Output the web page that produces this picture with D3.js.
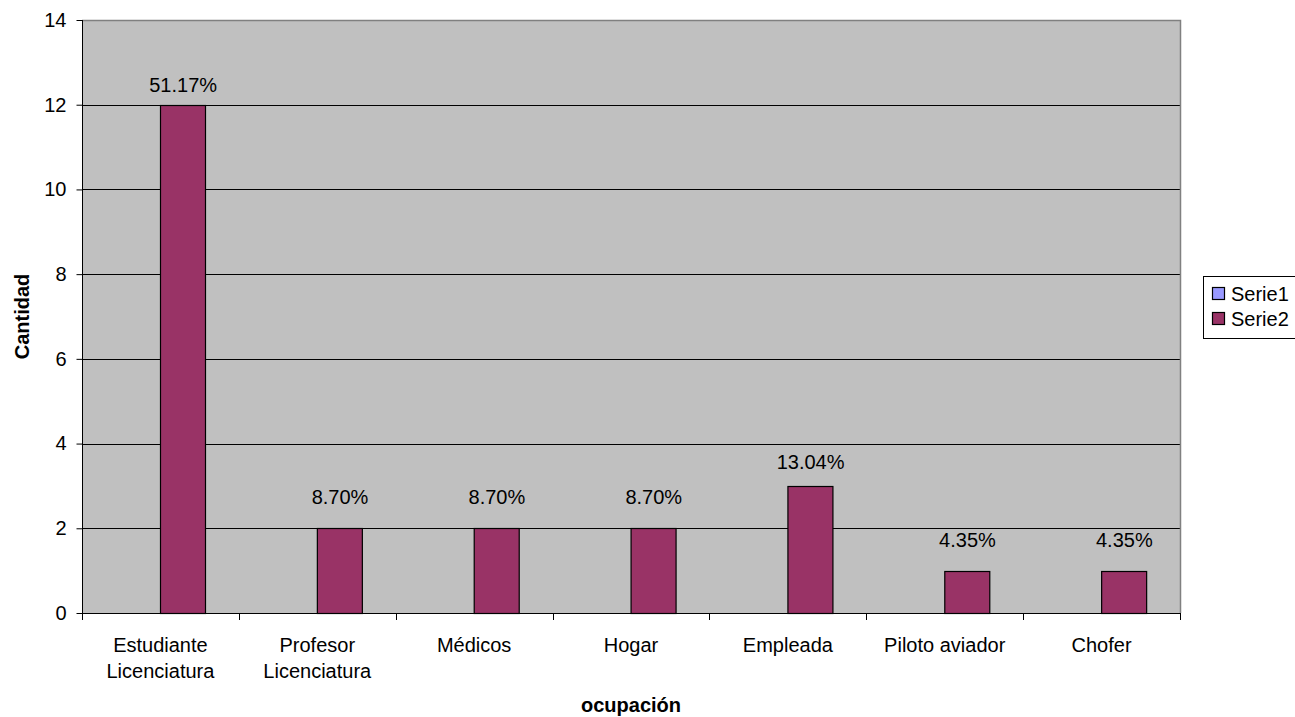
<!DOCTYPE html>
<html>
<head>
<meta charset="utf-8">
<script src="https://cdn.jsdelivr.net/npm/d3@7"></script>
<style>
  html, body { margin: 0; padding: 0; background: #fff; }
  svg { display: block; font-family: "Liberation Sans", Arial, sans-serif; }
</style>
</head>
<body>
<svg id="chart" width="1295" height="717"></svg>
<script>
// Occupation categories (two-line labels split on "\n")
const categories = [
  "Estudiante\nLicenciatura",
  "Profesor\nLicenciatura",
  "Médicos",
  "Hogar",
  "Empleada",
  "Piloto aviador",
  "Chofer"
];
const seriesNames = ["Serie1", "Serie2"];
const serie1 = [0, 0, 0, 0, 0, 0, 0];
const serie2 = [12, 2, 2, 2, 3, 1, 1];
const serie2Labels = ["51.17%", "8.70%", "8.70%", "8.70%", "13.04%", "4.35%", "4.35%"];
const yTicks = [0, 2, 4, 6, 8, 10, 12, 14];

const colors = { Serie1: "#9999FF", Serie2: "#993366" };

const svg = d3.select("#chart");
const plot = { left: 82, right: 1180, top: 20, bottom: 613 };
const fontSize = 20;

const x = d3.scaleBand()
  .domain(categories)
  .range([plot.left, plot.right])
  .paddingInner(0).paddingOuter(0);

const y = d3.scaleLinear().domain([0, 14]).range([plot.bottom, plot.top]);

const groupWidth = x.bandwidth() * 0.58;
const xSub = d3.scaleBand()
  .domain(seriesNames)
  .range([(x.bandwidth() - groupWidth) / 2, (x.bandwidth() + groupWidth) / 2]);

// Plot background
svg.append("rect")
  .attr("x", plot.left).attr("y", plot.top)
  .attr("width", plot.right - plot.left).attr("height", plot.bottom - plot.top)
  .attr("fill", "#C0C0C0");

// Gridlines
svg.append("g").selectAll("line")
  .data(yTicks.filter(t => t > 0 && t < 14))
  .join("line")
  .attr("x1", plot.left).attr("x2", plot.right)
  .attr("y1", d => Math.round(y(d)) + 0.5).attr("y2", d => Math.round(y(d)) + 0.5)
  .attr("stroke", "#000").attr("stroke-width", 1);

// Plot frame (top and right in grey)
svg.append("path")
  .attr("d", `M${plot.left},${plot.top + 0.5}H${plot.right + 0.5}V${plot.bottom}`)
  .attr("fill", "none").attr("stroke", "#808080").attr("stroke-width", 1.5);

// Bars
const rows = categories.map((c, i) => ({ cat: c, values: [
  { key: "Serie1", value: serie1[i] },
  { key: "Serie2", value: serie2[i] }
], label: serie2Labels[i], v2: serie2[i] }));

const groups = svg.append("g").selectAll("g")
  .data(rows).join("g")
  .attr("transform", d => `translate(${x(d.cat)},0)`);

groups.selectAll("rect")
  .data(d => d.values.filter(v => v.value > 0))
  .join("rect")
  .attr("x", d => Math.round(xSub(d.key)) + 0.5)
  .attr("y", d => Math.round(y(d.value)) + 0.5)
  .attr("width", Math.round(xSub.bandwidth()))
  .attr("height", d => Math.round(y(0)) - Math.round(y(d.value)))
  .attr("fill", d => colors[d.key])
  .attr("stroke", "#000").attr("stroke-width", 1.2);

// Value labels above the Serie2 bars
const labelLift = [13, 24, 24, 24, 17, 24, 24];
groups.append("text")
  .attr("x", xSub("Serie2") + xSub.bandwidth() / 2)
  .attr("y", (d, i) => y(d.v2) - labelLift[i])
  .attr("text-anchor", "middle")
  .attr("font-size", fontSize)
  .attr("fill", "#000")
  .text(d => d.label);

// Y axis
const yAxis = d3.axisLeft(y).tickValues(yTicks).tickSize(6).tickPadding(10).tickFormat(d3.format("d"));
const gy = svg.append("g")
  .attr("transform", `translate(${plot.left + 0.5},0)`)
  .call(yAxis);
gy.select(".domain").attr("stroke", "#000").attr("d", `M0,${plot.top}V${plot.bottom}`);
gy.selectAll(".tick text").attr("font-size", fontSize).attr("font-family", "Liberation Sans, Arial, sans-serif").attr("fill", "#000");

// X axis: ticks on category boundaries
const gx = svg.append("g");
gx.append("line")
  .attr("x1", plot.left).attr("x2", plot.right + 1)
  .attr("y1", plot.bottom + 0.5).attr("y2", plot.bottom + 0.5)
  .attr("stroke", "#000");
const boundaries = categories.map(c => x(c)).concat([x(categories[categories.length - 1]) + x.bandwidth()]);
gx.selectAll("line.tick")
  .data(boundaries).join("line")
  .attr("class", "tick")
  .attr("x1", d => Math.round(d) + 0.5).attr("x2", d => Math.round(d) + 0.5)
  .attr("y1", plot.bottom).attr("y2", plot.bottom + 7)
  .attr("stroke", "#000");

gx.selectAll("text.cat")
  .data(categories).join("text")
  .attr("class", "cat")
  .attr("text-anchor", "middle")
  .attr("font-size", fontSize)
  .attr("fill", "#000")
  .each(function (d) {
    const t = d3.select(this);
    d.split("\n").forEach((line, i) => {
      t.append("tspan")
        .attr("x", x(d) + x.bandwidth() / 2)
        .attr("y", 652 + i * 26)
        .text(line);
    });
  });

// Axis titles
svg.append("text")
  .attr("x", (plot.left + plot.right) / 2).attr("y", 712)
  .attr("text-anchor", "middle")
  .attr("font-size", fontSize).attr("font-weight", "bold")
  .text("ocupación");

svg.append("text")
  .attr("transform", `translate(29,${(plot.top + plot.bottom) / 2}) rotate(-90)`)
  .attr("text-anchor", "middle")
  .attr("font-size", fontSize).attr("font-weight", "bold")
  .text("Cantidad");

// Legend
const legend = svg.append("g");
legend.append("rect")
  .attr("x", 1203.5).attr("y", 276.5).attr("width", 120).attr("height", 62)
  .attr("fill", "#fff").attr("stroke", "#000");
seriesNames.forEach((s, i) => {
  legend.append("rect")
    .attr("x", 1212.5).attr("y", 287.5 + i * 25).attr("width", 12).attr("height", 12)
    .attr("fill", colors[s]).attr("stroke", "#000").attr("stroke-width", 1.2);
  legend.append("text")
    .attr("x", 1231).attr("y", 301 + i * 25)
    .attr("font-size", fontSize).attr("fill", "#000")
    .text(s);
});
</script>
</body>
</html>
